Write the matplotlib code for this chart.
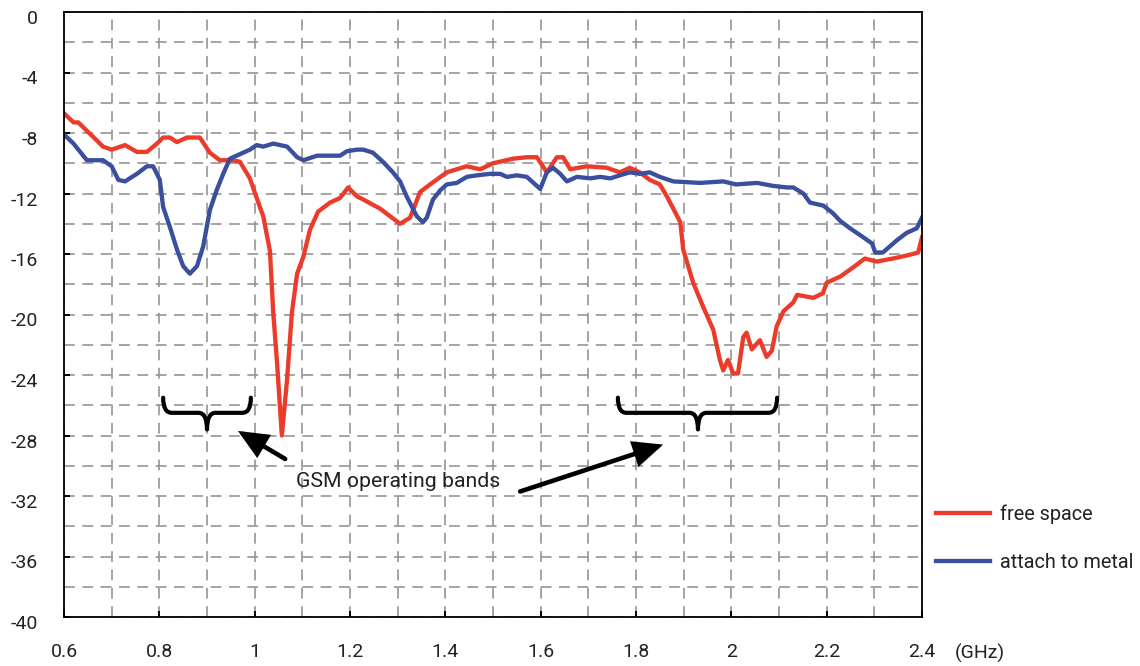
import matplotlib
matplotlib.use("Agg")
import matplotlib.pyplot as plt
from matplotlib.path import Path
from matplotlib.patches import PathPatch, FancyArrowPatch
import matplotlib.transforms as mtransforms

plt.rcParams['font.family'] = ['Roboto', 'DejaVu Sans']

# free space curve (GHz, dB)
free_f = [0.6, 0.62, 0.63, 0.682, 0.70, 0.728, 0.753, 0.774, 0.795, 0.808, 0.822, 0.837,
          0.858, 0.885, 0.906, 0.927, 0.955, 0.969, 0.99, 1.011, 1.018, 1.032, 1.039, 1.047,
          1.057, 1.068, 1.078, 1.089, 1.102, 1.116, 1.133, 1.158, 1.179, 1.196, 1.215, 1.228,
          1.263, 1.305, 1.326, 1.347, 1.368, 1.403, 1.445, 1.473, 1.5, 1.542, 1.571, 1.592,
          1.613, 1.634, 1.647, 1.662, 1.697, 1.739, 1.766, 1.787, 1.808, 1.829, 1.85, 1.865,
          1.893, 1.899, 1.92, 1.941, 1.962, 1.976, 1.983, 1.993, 2.004, 2.014, 2.025, 2.032,
          2.043, 2.06, 2.074, 2.085, 2.095, 2.109, 2.13, 2.138, 2.172, 2.192, 2.2, 2.228,
          2.255, 2.28, 2.305, 2.339, 2.368, 2.392, 2.4]
free_db = [-6.7, -7.3, -7.3, -8.9, -9.1, -8.8, -9.25, -9.25, -8.7, -8.3, -8.3, -8.6,
           -8.3, -8.3, -9.3, -9.8, -9.8, -9.9, -11.0, -12.9, -13.5, -15.8, -19.9, -23.2,
           -28.0, -24.3, -19.9, -17.3, -16.2, -14.4, -13.2, -12.6, -12.3, -11.6, -12.2, -12.4,
           -13.0, -14.0, -13.6, -11.9, -11.4, -10.6, -10.2, -10.4, -10.0, -9.7, -9.6, -9.6,
           -10.6, -9.6, -9.6, -10.4, -10.2, -10.3, -10.6, -10.3, -10.6, -11.1, -11.4, -12.2,
           -13.9, -15.7, -17.9, -19.5, -21.0, -23.0, -23.7, -23.0, -23.9, -23.9, -21.5, -21.2,
           -22.3, -21.7, -22.8, -22.4, -20.8, -19.8, -19.2, -18.7, -18.9, -18.6, -17.9, -17.5,
           -16.9, -16.3, -16.5, -16.3, -16.1, -15.9, -14.9]

# attached to metal curve
metal_f = [0.6, 0.62, 0.648, 0.682, 0.70, 0.714, 0.728, 0.753, 0.774, 0.787, 0.801, 0.808,
           0.822, 0.837, 0.85, 0.864, 0.879, 0.892, 0.906, 0.92, 0.934, 0.948, 0.969, 0.99,
           1.004, 1.018, 1.039, 1.068, 1.089, 1.102, 1.131, 1.179, 1.194, 1.215, 1.228, 1.248,
           1.269, 1.29, 1.305, 1.319, 1.34, 1.353, 1.361, 1.374, 1.389, 1.403, 1.424, 1.445,
           1.466, 1.494, 1.515, 1.529, 1.55, 1.571, 1.599, 1.613, 1.626, 1.641, 1.655, 1.676,
           1.704, 1.725, 1.746, 1.766, 1.787, 1.808, 1.829, 1.85, 1.878, 1.934, 1.983, 2.01,
           2.054, 2.088, 2.117, 2.13, 2.151, 2.165, 2.193, 2.213, 2.228, 2.249, 2.277, 2.295,
           2.302, 2.318, 2.347, 2.368, 2.389, 2.4]
metal_db = [-8.1, -8.7, -9.8, -9.8, -10.2, -11.1, -11.2, -10.7, -10.2, -10.2, -11.1, -12.9,
            -14.2, -15.7, -16.8, -17.3, -16.8, -15.5, -13.1, -11.8, -10.7, -9.7, -9.4, -9.1,
            -8.8, -8.9, -8.7, -8.9, -9.6, -9.8, -9.5, -9.5, -9.2, -9.1, -9.1, -9.3,
            -9.9, -10.6, -11.2, -12.2, -13.5, -13.9, -13.6, -12.4, -11.8, -11.4, -11.3, -10.9,
            -10.8, -10.7, -10.7, -10.9, -10.8, -10.9, -11.7, -10.6, -10.3, -10.7, -11.2, -10.9,
            -11.0, -10.9, -11.0, -10.8, -10.6, -10.7, -10.6, -10.9, -11.2, -11.3, -11.2, -11.4,
            -11.3, -11.5, -11.6, -11.6, -12.0, -12.6, -12.8, -13.3, -13.8, -14.3, -14.9, -15.3,
            -15.9, -15.9, -15.1, -14.6, -14.3, -13.6]

x_ticks = [0.6, 0.8, 1.0, 1.2, 1.4, 1.6, 1.8, 2.0, 2.2, 2.4]
x_labels = ['0.6', '0.8', '1', '1.2', '1.4', '1.6', '1.8', '2', '2.2', '2.4']
y_ticks = [0, -4, -8, -12, -16, -20, -24, -28, -32, -36, -40]

# GSM bands marked with braces: (start, end, middle)
bands = [(0.808, 0.992, 0.900), (1.762, 2.096, 1.930)]

RED = '#ec3a2b'
BLUE = '#3a4f9e'
TXT = '#222222'

fig = plt.figure(figsize=(11.4, 6.66), dpi=100)
ax = fig.add_axes([64 / 1140, 1 - 617 / 666, (922 - 64) / 1140, (617 - 12) / 666])

ax.plot(free_f, free_db, color=RED, lw=3.1, label='free space', solid_joinstyle='round')
ax.plot(metal_f, metal_db, color=BLUE, lw=3.1, label='attach to metal', solid_joinstyle='round')

ax.set_xlim(0.6, 2.4)
ax.set_ylim(-40, 0)
ax.set_xticks(x_ticks)
ax.set_xticklabels(x_labels)
ax.set_xticks([0.7 + 0.2 * i for i in range(9)], minor=True)
ax.set_yticks(y_ticks)
ax.set_yticklabels([str(v) for v in y_ticks])
ax.set_yticks([-2 - 4 * i for i in range(10)], minor=True)

ax.grid(which='both', color='#959595', lw=1.2, linestyle=(0, (6.5, 4.5)))
ax.set_axisbelow(True)
ax.tick_params(which='major', direction='in', length=4, width=1.4, color='black',
               labelsize=14, labelcolor=TXT)
ax.tick_params(which='minor', length=0)
ax.tick_params(axis='x', pad=19)
ax.tick_params(axis='y', pad=19)
for s in ax.spines.values():
    s.set_linewidth(1.3)
    s.set_color('black')

# y labels sit a bit below their ticks in the original
off = mtransforms.ScaledTranslation(0, -5 / 100, fig.dpi_scale_trans)
for lab in ax.get_yticklabels():
    lab.set_transform(lab.get_transform() + off)

fig.text(955 / 1140, 1 - 653 / 666, '(GHz)', fontsize=14, color=TXT, va='center', ha='left')

# braces
for x0, x1, xm in bands:
    ytop, yline, ytip = -25.5, -26.5, -27.6
    r = 0.018
    verts = [(x0, ytop), (x0, yline), (x0 + r, yline),
             (xm - r, yline), (xm, yline), (xm, ytip),
             (xm, yline), (xm + r, yline),
             (x1 - r, yline), (x1, yline), (x1, ytop)]
    codes = [Path.MOVETO, Path.CURVE3, Path.CURVE3,
             Path.LINETO, Path.CURVE3, Path.CURVE3,
             Path.CURVE3, Path.CURVE3,
             Path.LINETO, Path.CURVE3, Path.CURVE3]
    ax.add_patch(PathPatch(Path(verts, codes), fill=False, lw=3.0, color='black',
                           capstyle='round', joinstyle='round'))

ax.text(1.302, -31.4, 'GSM operating bands', fontsize=15.3, color=TXT, ha='center', va='baseline')
for tail, head in [((1.064, -29.55), (0.965, -27.7)), ((1.557, -31.7), (1.857, -28.6))]:
    ax.add_patch(FancyArrowPatch(tail, head, arrowstyle='-|>,head_length=0.9,head_width=0.4',
                                 mutation_scale=18, lw=3.3, color='black', shrinkA=0, shrinkB=0,
                                 joinstyle='miter'))

ax.legend(loc='center left', bbox_to_anchor=(936 / 1140, 1 - 538.5 / 666),
          bbox_transform=fig.transFigure, frameon=False, fontsize=14.3,
          handlelength=2.7, handletextpad=0.5, labelspacing=1.45,
          borderpad=0, borderaxespad=0, labelcolor=TXT)

fig.savefig('out.png', dpi=100)
